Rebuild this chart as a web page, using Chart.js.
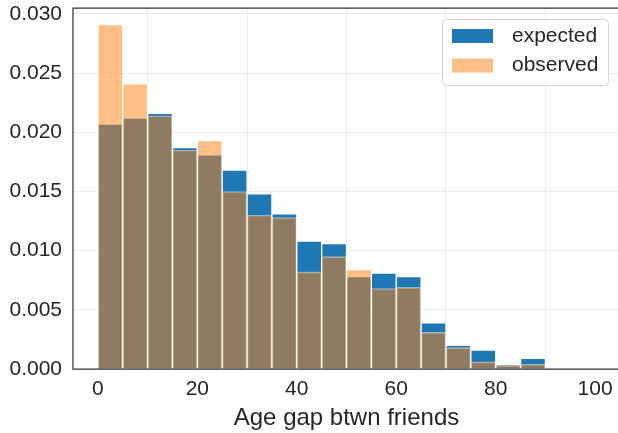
<!DOCTYPE html>
<html>
<head>
<meta charset="utf-8">
<script src="https://cdn.jsdelivr.net/npm/chart.js@4/dist/chart.umd.min.js"></script>
<style>
  html, body { margin: 0; padding: 0; background: #fff; overflow: hidden; }
  #wrap { width: 618px; height: 433px; overflow: hidden; }
  canvas { display: block; }
</style>
</head>
<body>
<div id="wrap"><canvas id="hist" width="640" height="433"></canvas></div>
<script>
// histogram bins (left edges, width 5)
var binLefts = [0, 5, 10, 15, 20, 25, 30, 35, 40, 45, 50, 55, 60, 65, 70, 75, 80, 85];
var binWidth = 5;
var expected = [0.0207, 0.0212, 0.0216, 0.0187, 0.0181, 0.0168, 0.0148, 0.0131, 0.0108,
                0.0106, 0.0078, 0.0081, 0.0078, 0.0039, 0.0020, 0.0016, 0.0004, 0.0009];
var observed = [0.0291, 0.0241, 0.0214, 0.0185, 0.0193, 0.0150, 0.0130, 0.0128, 0.0082,
                0.0095, 0.0084, 0.0068, 0.0069, 0.0031, 0.0018, 0.0006, 0.0003, 0.0004];
var xTicks = [0, 20, 40, 60, 80, 100];
var yTicks = [0, 0.005, 0.010, 0.015, 0.020, 0.025, 0.030];

var FONT = "'Liberation Sans', Arial, sans-serif";
var TEXT = "#262626";

function toPoints(vals) {
    return vals.map(function (v, i) {
        return { x: binLefts[i] + binWidth / 2, y: v };
    });
}

// frame around the plot area (right side runs off the canvas)
var spines = {
    id: "spines",
    afterDatasetsDraw: function (chart) {
        var a = chart.chartArea, ctx = chart.ctx;
        ctx.save();
        ctx.strokeStyle = "#333333";
        ctx.lineWidth = 1.25;
        ctx.beginPath();
        ctx.moveTo(a.left, a.top);
        ctx.lineTo(a.right, a.top);
        ctx.lineTo(a.right, a.bottom);
        ctx.lineTo(a.left, a.bottom);
        ctx.closePath();
        ctx.stroke();
        ctx.restore();
    }
};

// boxed legend in the upper right corner
var boxLegend = {
    id: "boxLegend",
    afterDraw: function (chart) {
        var a = chart.chartArea, ctx = chart.ctx;
        var w = 166, h = 66;
        var x = 442, y = a.top + 11;
        ctx.save();
        ctx.beginPath();
        ctx.roundRect(x + 0.5, y + 0.5, w, h, 4);
        ctx.fillStyle = "rgba(255,255,255,0.8)";
        ctx.fill();
        ctx.strokeStyle = "#d6d6d6";
        ctx.lineWidth = 1;
        ctx.stroke();
        var items = [chart.data.datasets[0], chart.data.datasets[1]];
        ctx.font = "21px " + FONT;
        ctx.textBaseline = "middle";
        items.forEach(function (ds, i) {
            var cy = y + 17 + i * 29.5;
            ctx.fillStyle = ds.backgroundColor;
            ctx.fillRect(x + 10, cy - 7, 41, 14);
            ctx.fillStyle = TEXT;
            ctx.fillText(ds.label, x + 70, cy);
        });
        ctx.restore();
    }
};

var ctx = document.getElementById("hist").getContext("2d");
var chart = new Chart(ctx, {
    type: "bar",
    data: {
        datasets: [
            {
                label: "expected",
                data: toPoints(expected),
                backgroundColor: "#1f77b4",
                borderColor: "#ffffff",
                borderWidth: 1,
                order: 2
            },
            {
                label: "observed",
                data: toPoints(observed),
                backgroundColor: "rgba(255,127,14,0.5)",
                borderColor: "rgba(255,255,255,0.5)",
                borderWidth: 1,
                order: 1
            }
        ]
    },
    options: {
        responsive: false,
        animation: false,
        devicePixelRatio: 1,
        layout: { padding: { top: 8, right: 20, left: 0, bottom: 0 } },
        datasets: {
            bar: { grouped: false, barPercentage: 1, categoryPercentage: 1 }
        },
        plugins: {
            legend: { display: false },
            tooltip: { enabled: false }
        },
        scales: {
            x: {
                type: "linear",
                min: -5,
                max: 105,
                offset: false,
                afterBuildTicks: function (axis) {
                    axis.ticks = xTicks.map(function (v) { return { value: v }; });
                },
                afterFit: function (axis) {
                    axis.height = 64;
                    axis.paddingLeft = 0;
                    axis.paddingRight = 0;
                },
                grid: { color: "#ececec", lineWidth: 1, drawTicks: false },
                border: { display: false },
                ticks: {
                    color: TEXT,
                    padding: 8,
                    maxRotation: 0,
                    font: { family: FONT, size: 21 }
                },
                title: {
                    display: true,
                    text: "Age gap btwn friends",
                    color: TEXT,
                    padding: { top: 0, bottom: 0 },
                    font: { family: FONT, size: 24 }
                }
            },
            y: {
                min: 0,
                max: 0.0305,
                afterBuildTicks: function (axis) {
                    axis.ticks = yTicks.map(function (v) { return { value: v }; });
                },
                afterFit: function (axis) {
                    axis.width = 73;
                    axis.paddingTop = 0;
                    axis.paddingBottom = 0;
                },
                grid: { color: "#ececec", lineWidth: 1, drawTicks: false },
                border: { display: false },
                ticks: {
                    color: TEXT,
                    padding: 11,
                    font: { family: FONT, size: 21 },
                    callback: function (v) { return v.toFixed(3); }
                }
            }
        }
    },
    plugins: [spines, boxLegend]
});
</script>
</body>
</html>
